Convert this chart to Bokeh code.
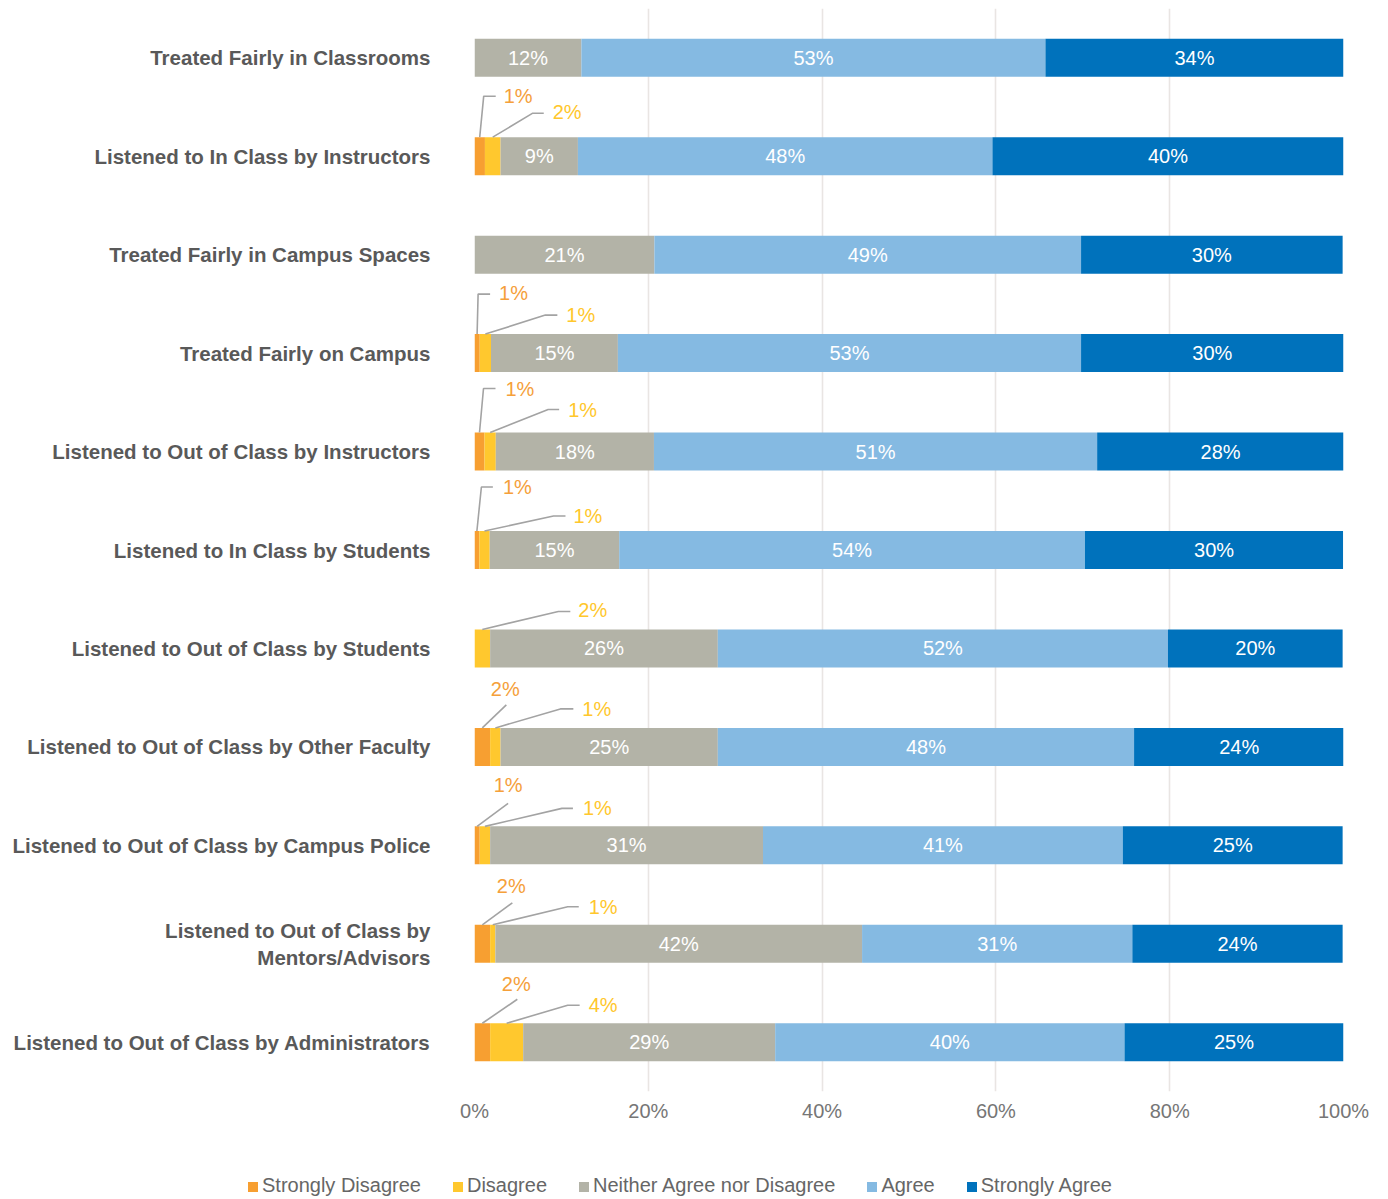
from bokeh.plotting import figure
from bokeh.layouts import column
from bokeh.models import Range1d, FactorRange, FixedTicker, ColumnDataSource, Div
from bokeh.core.properties import value
from bokeh.embed import file_html
from bokeh.resources import INLINE

# ---------------- data ----------------
categories = [
    "Treated Fairly in Classrooms",
    "Listened to In Class by Instructors",
    "Treated Fairly in Campus Spaces",
    "Treated Fairly on Campus",
    "Listened to Out of Class by Instructors",
    "Listened to In Class by Students",
    "Listened to Out of Class by Students",
    "Listened to Out of Class by Other Faculty",
    "Listened to Out of Class by Campus Police",
    "Listened to Out of Class by\nMentors/Advisors",
    "Listened to Out of Class by Administrators",
]
strongly_disagree = [0, 1.2, 0, 0.6, 1.15, 0.55, 0, 1.8, 0.6, 1.8, 1.8]
disagree = [0, 1.8, 0, 1.3, 1.3, 1.2, 1.8, 1.2, 1.2, 0.6, 3.8]
neither = [12.3, 8.9, 20.7, 14.6, 18.2, 14.9, 26.2, 25.0, 31.4, 42.2, 29.0]
agree = [53.4, 47.7, 49.1, 53.3, 51.0, 53.6, 51.8, 47.9, 41.4, 31.1, 40.2]
strongly_agree = [34.3, 40.4, 30.1, 30.2, 28.4, 29.7, 20.1, 24.2, 25.3, 24.2, 25.2]
series_names = ["Strongly Disagree", "Disagree", "Neither Agree nor Disagree", "Agree", "Strongly Agree"]
x_ticks = [0, 20, 40, 60, 80, 100]
x_tick_labels = ["0%", "20%", "40%", "60%", "80%", "100%"]

# ---------------- style / layout ----------------
colors = ["#F79F31", "#FFC82E", "#B3B3A7", "#85BAE2", "#0072BC"]
FONT = "Liberation Sans"
FRAME_W, FRAME_H = 869, 1083
N = len(categories)
PX_X = FRAME_W / 100.0
PX_Y = FRAME_H / N
BAR_H = 0.386

# callout leader geometry in pixel offsets (dx right, up) from the segment's top centre
CALLOUTS = {
    1: {"sd": ([(0, 0), (4, 41), (16, 41)], (24, 41), "left"),
        "d": ([(0, 0), (40, 24), (51, 24)], (60, 25), "left")},
    3: {"sd": ([(0, 0), (1, 40), (13, 40)], (22, 41), "left"),
        "d": ([(0, 0), (60, 19), (72, 19)], (81, 19), "left")},
    4: {"sd": ([(0, 0), (4, 44), (16, 44)], (26, 44), "left"),
        "d": ([(0, 0), (58, 23), (69, 23)], (78, 23), "left")},
    5: {"sd": ([(0, 0), (4.5, 44), (16, 44)], (26, 44), "left"),
        "d": ([(0, 0), (69, 15), (81, 15)], (89, 15), "left")},
    6: {"d": ([(0, 0), (76, 18), (88, 18)], (96, 19), "left")},
    7: {"sd": ([(0, 0), (24, 23)], (23, 39), "center"),
        "d": ([(0, 0), (65, 19), (78, 19)], (87, 19), "left")},
    8: {"sd": ([(0, 0), (31, 23)], (31, 41), "center"),
        "d": ([(0, 0), (77, 18), (88, 18)], (98, 18), "left")},
    9: {"sd": ([(0, 0), (30, 22)], (29, 39), "center"),
        "d": ([(0, 0), (75, 18), (86, 18)], (96, 18), "left")},
    10: {"sd": ([(0, 0), (35, 24)], (34, 39), "center"),
         "d": ([(0, 0), (61, 18), (73, 18)], (82, 18), "left")},
}
text_colors = {"sd": "#F5A03A", "d": "#FFC72C"}

p = figure(width=1380, height=1128,
           y_range=FactorRange(factors=list(reversed(categories))),
           x_range=Range1d(0, 100),
           output_backend="svg", toolbar_location=None,
           min_border_left=474, min_border_right=37,
           min_border_top=8, min_border_bottom=37)
p.outline_line_color = None
p.background_fill_color = "white"
p.border_fill_color = "white"

source = ColumnDataSource(dict(cat=categories, sd=strongly_disagree, d=disagree,
                               n=neither, a=agree, sa=strongly_agree))
keys = ["sd", "d", "n", "a", "sa"]
renderers = p.hbar_stack(keys, y="cat", height=BAR_H, color=colors,
                         line_color=None, source=source)

# in-bar labels
lx, ly, lt = [], [], []
for i, c in enumerate(categories):
    left = strongly_disagree[i] + disagree[i]
    for v in (neither[i], agree[i], strongly_agree[i]):
        if v > 0:
            lx.append(left + v / 2.0)
            ly.append(c)
            lt.append(f"{round(v):.0f}%")
        left += v
p.text(x=lx, y=ly, text=lt, text_align="center", text_baseline="middle",
       text_color="white", text_font=value(FONT), text_font_size="20px")

# callouts for small segments
mxs, mys = [], []
tl = {"left": dict(x=[], y=[], t=[], c=[]), "center": dict(x=[], y=[], t=[], c=[])}
for i, spec in CALLOUTS.items():
    ysyn_top = (N - 1 - i) + 0.5 + BAR_H / 2.0
    for key, (pts, toff, align) in spec.items():
        if key == "sd":
            v = strongly_disagree[i]
            cx = v / 2.0
        else:
            v = disagree[i]
            cx = strongly_disagree[i] + v / 2.0
        mxs.append([cx + dx / PX_X for dx, up in pts])
        mys.append([ysyn_top + up / PX_Y for dx, up in pts])
        d = tl[align]
        d["x"].append(cx + toff[0] / PX_X)
        d["y"].append(ysyn_top + toff[1] / PX_Y)
        d["t"].append(f"{round(v):.0f}%")
        d["c"].append(text_colors[key])
p.multi_line(xs=mxs, ys=mys, line_color="#A3A3A3", line_width=1.6)
for align, d in tl.items():
    p.text(x=d["x"], y=d["y"], text=d["t"], text_color=d["c"], text_align=align,
           text_baseline="middle", text_font=value(FONT), text_font_size="20px")

# axes
p.xaxis.ticker = FixedTicker(ticks=x_ticks)
p.xaxis.major_label_overrides = {t: l for t, l in zip(x_ticks, x_tick_labels)}
p.xaxis.axis_line_color = None
p.xaxis.major_tick_line_color = None
p.xaxis.minor_tick_line_color = None
p.xaxis.major_label_text_font = FONT
p.xaxis.major_label_text_font_size = "20px"
p.xaxis.major_label_text_color = "#767676"
p.xaxis.major_label_standoff = 2

p.yaxis.axis_line_color = None
p.yaxis.major_tick_line_color = None
p.yaxis.minor_tick_line_color = None
p.yaxis.major_label_text_font = FONT
p.yaxis.major_label_text_font_size = "20.5px"
p.yaxis.major_label_text_font_style = "bold"
p.yaxis.major_label_text_color = "#595959"
p.yaxis.major_label_standoff = 38

p.xgrid.grid_line_color = "#E9E5E3"
p.xgrid.grid_line_width = 1.6
p.ygrid.grid_line_color = None

# legend strip (HTML) below the chart
item_html = []
for nm, c in zip(series_names, colors):
    item_html.append(
        f'<span style="display:inline-block;width:10px;height:10px;background:{c};'
        f'margin-right:4px"></span>{nm}'
    )
gap = '<span style="display:inline-block;width:32px"></span>'
legend_div = Div(
    text=(f'<div style="font-family:\'{FONT}\';font-size:20px;color:#666666;'
          f'white-space:nowrap;padding-left:243px;padding-top:40px;line-height:24px">'
          + gap.join(item_html) + '</div>'),
    width=1380, height=70,
)

layout = column(p, legend_div, spacing=0)
open("out.html", "w").write(file_html(layout, INLINE))
